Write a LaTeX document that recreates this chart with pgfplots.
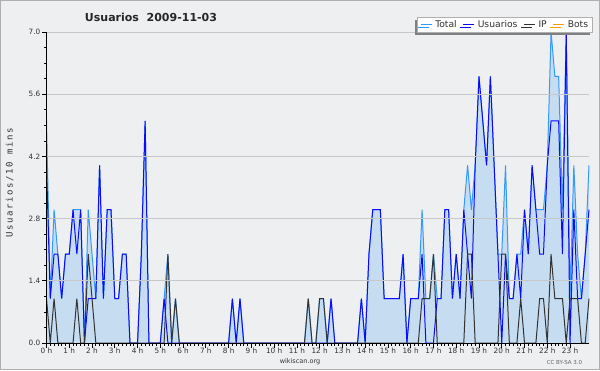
\documentclass[border=0pt]{standalone}
\usepackage{fontspec}
\setmainfont{DejaVu Sans}
\newfontfamily\monofont[LetterSpace=18]{DejaVu Sans Mono}
\usepackage{pgfplots}
\pgfplotsset{compat=1.18}
\usepackage{pgfplotstable}
\usetikzlibrary{shadows}
\definecolor{bgc}{RGB}{238,239,241}
\definecolor{borderc}{RGB}{175,175,175}
\definecolor{gridc}{RGB}{200,200,202}
\definecolor{totalc}{RGB}{51,153,255}
\definecolor{userc}{RGB}{10,10,255}
\definecolor{ipc}{RGB}{51,51,51}
\definecolor{botsc}{RGB}{255,153,0}
\definecolor{fillc}{RGB}{198,221,241}
\definecolor{labc}{RGB}{50,50,50}
\pgfplotstableread{
i T U IP B
0 5 4 1 0
1 1 1 0 0
2 3 2 1 0
3 2 2 0 0
4 1 1 0 0
5 2 2 0 0
6 2 2 0 0
7 3 3 0 0
8 3 2 1 0
9 3 3 0 0
10 0 0 0 0
11 3 1 2 0
12 2 1 1 0
13 1 1 0 0
14 4 4 0 0
15 1 1 0 0
16 3 3 0 0
17 3 3 0 0
18 1 1 0 0
19 1 1 0 0
20 2 2 0 0
21 2 2 0 0
22 0 0 0 0
23 0 0 0 0
24 0 0 0 0
25 2 2 0 0
26 5 5 0 0
27 0 0 0 0
28 0 0 0 0
29 0 0 0 0
30 0 0 0 0
31 1 1 0 0
32 2 0 2 0
33 0 0 0 0
34 1 0 1 0
35 0 0 0 0
36 0 0 0 0
37 0 0 0 0
38 0 0 0 0
39 0 0 0 0
40 0 0 0 0
41 0 0 0 0
42 0 0 0 0
43 0 0 0 0
44 0 0 0 0
45 0 0 0 0
46 0 0 0 0
47 0 0 0 0
48 0 0 0 0
49 1 1 0 0
50 0 0 0 0
51 1 1 0 0
52 0 0 0 0
53 0 0 0 0
54 0 0 0 0
55 0 0 0 0
56 0 0 0 0
57 0 0 0 0
58 0 0 0 0
59 0 0 0 0
60 0 0 0 0
61 0 0 0 0
62 0 0 0 0
63 0 0 0 0
64 0 0 0 0
65 0 0 0 0
66 0 0 0 0
67 0 0 0 0
68 0 0 0 0
69 1 0 1 0
70 0 0 0 0
71 0 0 0 0
72 1 0 1 0
73 1 0 1 0
74 0 0 0 0
75 1 1 0 0
76 0 0 0 0
77 0 0 0 0
78 0 0 0 0
79 0 0 0 0
80 0 0 0 0
81 0 0 0 0
82 0 0 0 0
83 1 1 0 0
84 0 0 0 0
85 2 2 0 0
86 3 3 0 0
87 3 3 0 0
88 3 3 0 0
89 1 1 0 0
90 1 1 0 0
91 1 1 0 0
92 1 1 0 0
93 1 1 0 0
94 2 2 0 0
95 0 0 0 0
96 1 1 0 0
97 1 1 0 0
98 1 1 0 0
99 3 2 1 0
100 1 0 1 0
101 1 0 1 0
102 2 0 2 0
103 1 1 0 0
104 1 1 0 0
105 3 3 0 0
106 3 3 0 0
107 1 1 0 0
108 2 2 0 0
109 1 1 0 0
110 3 3 0 0
111 4 2 2 0
112 3 1 2 0
113 4 4 0 0
114 6 6 0 0
115 5 5 0 0
116 4 4 0 0
117 6 6 0 0
118 4 4 0 0
119 2 2 0 0
120 2 0 2 0
121 4 2 2 0
122 1 1 0 0
123 1 1 0 0
124 2 2 0 0
125 2 1 1 0
126 3 3 0 0
127 2 2 0 0
128 4 4 0 0
129 3 3 0 0
130 3 2 1 0
131 3 2 1 0
132 4 4 0 0
133 7 5 2 0
134 6 5 1 0
135 6 5 1 0
136 3 2 1 0
137 7 7 0 0
138 1 0 1 0
139 4 3 1 0
140 2 1 1 0
141 1 1 0 0
142 2 2 0 0
143 4 3 1 0
}\data
\begin{document}
\begin{tikzpicture}
\fill[bgc] (-46.5pt,-27pt) rectangle (553.5pt,343pt);
\draw[borderc, line width=1pt] (-46pt,-26.5pt) rectangle (553pt,342.5pt);
\begin{axis}[
  at={(0pt,0pt)}, anchor=origin,
  scale only axis, width=542.5pt, height=311pt,
  xmin=0, xmax=143, ymin=0, ymax=7,
  clip=false,
  axis on top,
  axis lines*=left,
  axis line style={black, line width=0.9pt},
  tick align=outside,
  major tick length=4.5pt, minor tick length=2.5pt,
  tick style={black, line width=0.7pt},
  xtick={0,6,...,138},
  xticklabels={0 h,1 h,2 h,3 h,4 h,5 h,6 h,7 h,8 h,9 h,10 h,11 h,12 h,13 h,14 h,15 h,16 h,17 h,18 h,19 h,20 h,21 h,22 h,23 h},
  minor x tick num=5,
  ytick={0,1.4,2.8,4.2,5.6,7},
  yticklabels={0.0,1.4,2.8,4.2,5.6,7.0},
  minor y tick num=3,
  ymajorgrids,
  grid style={gridc, line width=0.8pt},
  ticklabel style={font=\fontsize{7.3}{8.5}\selectfont, text=labc},
  xticklabel style={inner sep=1pt, yshift=0.5pt},
  yticklabel style={inner sep=1.5pt},
  /pgf/number format/assume math mode=true,
  legend columns=4,
  legend cell align=left,
  legend image code/.code={\draw[#1, line width=1pt] (0pt,0pt) -- (11pt,0pt);},
  legend style={at={(1.0074,1.0482)}, anchor=north east,
    draw=borderc, fill=white, line width=0.8pt,
    font=\fontsize{9.2}{10}\selectfont, text=labc,
    inner xsep=2.5pt, inner ysep=1pt,
    drop shadow={shadow xshift=-3pt, shadow yshift=-3pt, fill=black!50, opacity=1},
    /tikz/every odd column/.append style={column sep=1pt},
    /tikz/every even column/.append style={column sep=4pt}},
]
\addplot[botsc, line width=1pt, forget plot] table[x=i, y=B] {\data};
\addplot[fill=fillc, draw=none, forget plot] table[x=i, y=T] {\data} \closedcycle;
\addplot[totalc, line width=1pt, forget plot] table[x=i, y=T] {\data};
\addplot[userc, line width=1pt, forget plot] table[x=i, y=U] {\data};
\addplot[ipc, line width=1pt, forget plot] table[x=i, y=IP] {\data};
\addlegendimage{totalc}
\addlegendentry{Total}
\addlegendimage{userc}
\addlegendentry{Usuarios}
\addlegendimage{ipc}
\addlegendentry{IP}
\addlegendimage{botsc}
\addlegendentry{Bots}
\end{axis}
\node[font=\bfseries\fontsize{11}{12}\selectfont, text=black!85] at (104.5pt,326pt) {Usuarios\ \ 2009-11-03};
\node[rotate=90, font=\monofont\fontsize{9}{10}\selectfont, text=labc] at (-37pt,160pt) {Usuarios/10 mins};
\node[font=\fontsize{6.5}{8}\selectfont, text=labc] at (253.5pt,-19pt) {wikiscan.org};
\node[font=\fontsize{5.5}{7}\selectfont, text=black!60] at (518pt,-19pt) {CC BY-SA 3.0};
\pgfresetboundingbox
\useasboundingbox (-46.5pt,-27pt) rectangle (553.5pt,343pt);
\end{tikzpicture}
\end{document}
